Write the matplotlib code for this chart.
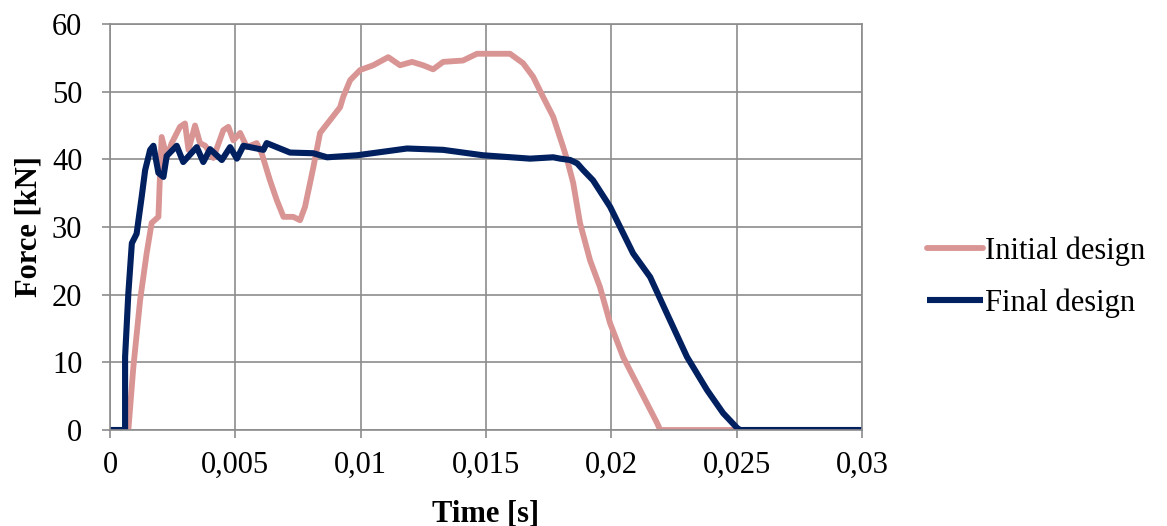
import matplotlib
matplotlib.use("Agg")
import matplotlib.pyplot as plt

plt.rcParams['font.family'] = ['Liberation Serif', 'DejaVu Serif']

# Initial design (force in kN vs time in s)
t_initial = [0, 0.00073, 0.00093, 0.0012, 0.00146, 0.00166, 0.00193, 0.0020, 0.00206,
             0.00226, 0.00246, 0.00279, 0.00299, 0.00313, 0.00339, 0.00359, 0.0038,
             0.00412, 0.00452, 0.00472, 0.00492, 0.00519, 0.00546, 0.00585, 0.00605,
             0.00638, 0.00665, 0.00692, 0.00731, 0.00758, 0.00778, 0.00811, 0.00838,
             0.00878, 0.00918, 0.0093, 0.00958, 0.00998, 0.0105, 0.0111, 0.01157,
             0.01205, 0.01249, 0.01289, 0.01329, 0.01408, 0.01464, 0.01544, 0.01596,
             0.01648, 0.01688, 0.01728, 0.01768, 0.01808, 0.01824, 0.01848, 0.01875,
             0.01915, 0.01955, 0.01995, 0.02047, 0.02115, 0.02183, 0.02195, 0.025]
f_initial = [0, 0, 9.3, 19.2, 26.1, 30.6, 31.5, 38.4, 43.3,
             40.3, 42.4, 44.8, 45.3, 41.4, 45.0, 42.4, 42.0,
             40.2, 44.3, 44.8, 42.8, 43.9, 41.8, 42.4, 40.9,
             36.9, 34.0, 31.5, 31.5, 31.0, 33.0, 38.8, 43.9,
             45.8, 47.7, 49.2, 51.7, 53.2, 53.9, 55.1, 53.9,
             54.4, 53.9, 53.3, 54.4, 54.6, 55.6, 55.6, 55.6,
             54.2, 52.2, 49.2, 46.3, 41.8, 39.9, 36.5, 30.6,
             25.1, 21.1, 15.8, 10.8, 5.9, 1.0, 0, 0]

# Final design
t_final = [0, 0.0006, 0.0006, 0.00073, 0.00087, 0.00106, 0.00126, 0.0014, 0.0016,
           0.00173, 0.00193, 0.00213, 0.00226, 0.00266, 0.00292, 0.00346, 0.00372,
           0.00399, 0.00446, 0.00479, 0.00506, 0.00532, 0.00612, 0.00625, 0.00718,
           0.00811, 0.00866, 0.00986, 0.01185, 0.01329, 0.01488, 0.01676, 0.01768,
           0.01796, 0.01836, 0.01864, 0.01888, 0.01927, 0.01995, 0.02087, 0.02155,
           0.02222, 0.02302, 0.02382, 0.02446, 0.02502, 0.02514, 0.03]
f_final = [0, 0, 10.8, 20.2, 27.6, 29.0, 34.4, 38.4, 41.4,
           42.0, 38.0, 37.4, 40.5, 42.0, 39.6, 41.8, 39.6,
           41.5, 39.9, 41.8, 40.1, 42.0, 41.4, 42.4, 41.0,
           40.9, 40.3, 40.6, 41.6, 41.4, 40.6, 40.1, 40.3,
           40.1, 39.9, 39.4, 38.4, 36.9, 33.0, 26.1, 22.6,
           17.2, 10.8, 5.9, 2.5, 0.3, 0, 0]

x_ticks = [0, 0.005, 0.01, 0.015, 0.02, 0.025, 0.03]
x_tick_labels = ['0', '0,005', '0,01', '0,015', '0,02', '0,025', '0,03']
y_ticks = [0, 10, 20, 30, 40, 50, 60]

fig = plt.figure(figsize=(11.67, 5.26), dpi=100)
ax = fig.add_axes([0.0943, 0.1825, 0.6443, 0.7719])

ax.plot(t_initial, f_initial, color='#D99594', linewidth=4.2,
        solid_capstyle='round', solid_joinstyle='round', label='Initial design')
ax.plot(t_final, f_final, color='#002060', linewidth=4.4,
        solid_capstyle='butt', solid_joinstyle='round', label='Final design')

ax.set_xlim(0, 0.03)
ax.set_ylim(0, 60)
ax.set_xticks(x_ticks)
ax.set_xticklabels(x_tick_labels)
ax.set_yticks(y_ticks)
ax.grid(True, color='#8c8c8c', linewidth=1.2)
ax.set_axisbelow(True)
for s in ax.spines.values():
    s.set_color('#8c8c8c')
    s.set_linewidth(1.2)
ax.tick_params(axis='both', colors='#8c8c8c', labelcolor='black', labelsize=22,
               length=6, width=1.2)
ax.tick_params(axis='x', pad=9)
ax.tick_params(axis='y', pad=14)

ax.set_xlabel('Time [s]', fontsize=22, fontweight='bold', labelpad=14)
ax.set_ylabel('Force [kN]', fontsize=22, fontweight='bold', labelpad=6)

fig.legend(loc='center left', bbox_to_anchor=(0.794, 0.473), frameon=False,
           fontsize=22, handlelength=1.85, handletextpad=0.05, labelspacing=0.75,
           borderpad=0, borderaxespad=0)

fig.savefig('out.png', dpi=100)
